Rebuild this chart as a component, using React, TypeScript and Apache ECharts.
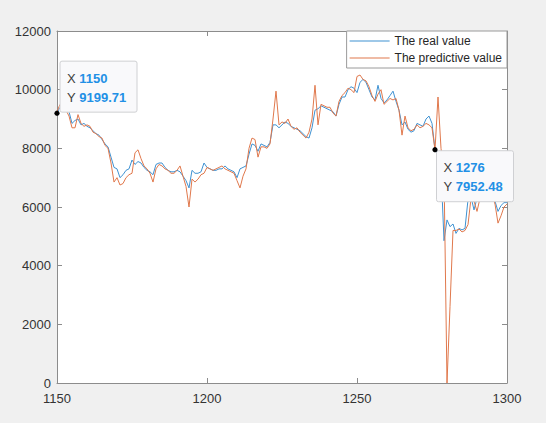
import React, { useEffect, useRef } from "react";
import * as echarts from "echarts";

// Sample index of the first value in each series (one value per step)
const X_START = 1150;

// Measured series
const realValues = [
  9200, 9400, 9450, 9350, 9250, 8850, 8950, 9000, 8800, 8850,
  8750, 8700, 8600, 8500, 8450, 8300, 8150, 8050, 7700, 7350,
  7300, 7000, 7100, 7250, 7300, 7600, 7450, 7550, 7500, 7350,
  7250, 7200, 7100, 7450, 7500, 7500, 7350, 7250, 7200, 7200,
  7250, 7200, 7050, 6900, 6650, 7250, 7150, 7150, 7200, 7500,
  7350, 7300, 7250, 7250, 7300, 7300, 7400, 7300, 7250, 7200,
  7000, 7300, 7350, 7400, 7800, 8150, 8100, 7900, 8150, 8100,
  8050, 8200, 8800, 8800, 8700, 8800, 8900, 8850, 8750, 8700,
  8650, 8600, 8500, 8400, 8350, 8700, 9300, 9350, 9450, 9400,
  9350, 9300, 9250, 9100, 9500, 9750, 9750, 10000, 10100, 10050,
  9900, 10250, 10350, 10250, 10000, 9750, 9650, 10150, 9700, 9550,
  9650, 9800, 9950, 9600, 9300, 8800, 8900, 8650, 8550, 8600,
  8850, 8800, 8750, 9000, 9100, 8850, 7952.48, 7800, 7300, 4850,
  5560, 5330, 5420, 5100, 5270, 5220, 5270, 6250, 6350, 5900,
  6300, 6500, 6650, 6600, 6450, 6400, 6200, 5850, 6050, 6150,
  6150,
];

// Model output
const predictedValues = [
  9250, 9500, 9400, 9300, 9100, 8700, 8700, 9150, 8850, 8750,
  8800, 8750, 8550, 8500, 8400, 8350, 8100, 8000, 7500, 6850,
  7000, 6750, 6800, 7000, 7100, 7150, 7850, 7950, 7650, 7400,
  7300, 7150, 6850, 7300, 7450, 7400, 7300, 7250, 7150, 7150,
  7250, 7400, 7050, 6700, 6000, 6950, 6850, 6950, 7100, 7150,
  7350, 7300, 7250, 7300, 7350, 7400, 7300, 7250, 7200, 7150,
  6900, 6650, 7050, 7300, 8000, 8350, 8300, 7700, 8050, 8050,
  8000, 8150, 9000, 9950, 8800, 8900, 8850, 9000, 8750, 8650,
  8700, 8550, 8450, 8350, 8550, 9000, 10150, 8800, 9500, 9450,
  9400, 9400, 9200, 9100, 9600, 9800, 9900, 10050, 10000, 9900,
  10450, 10500, 10350, 10300, 10100, 9800, 9600, 9850, 10000, 9500,
  9600, 9700, 9650, 9700, 9300, 8450, 9100, 8700, 8600, 8650,
  8800, 8700, 8750, 8850, 8800, 8700, 7950, 9750, 8000, 7200,
  0, 2600, 5200, 5200, 5250, 5150, 5200, 5400, 6300, 6200,
  5850, 6300, 6500, 6600, 6550, 6400, 6100, 5450, 5700, 6000,
  6100,
];

const seriesNames = ["The real value", "The predictive value"];
const seriesColors = ["#3f92d2", "#e0784c"];

// Axis ranges and tick steps
const xAxisRange = { min: 1150, max: 1300, step: 50 };
const yAxisRange = { min: 0, max: 12000, step: 2000 };

// Data tips pinned to points of the real series
const dataTips = [
  { x: 1150, y: 9199.71, place: "above" },
  { x: 1276, y: 7952.48, place: "below" },
];

const FONT = "'Liberation Sans', Arial, Helvetica, sans-serif";

export default function App() {
  const ref = useRef<HTMLDivElement>(null);

  useEffect(() => {
    document.body.style.margin = "0";
    const chart = echarts.init(ref.current!, null, { renderer: "svg" });
    const toPairs = (vals: number[]) => vals.map((v, i) => [X_START + i, v]);

    const lineStyle = { color: "#8c8c8c", width: 1 };
    const tick = { show: true, inside: true, length: 5, lineStyle };
    const plain = (v: number) => String(v);
    const baseX = {
      type: "value",
      min: xAxisRange.min,
      max: xAxisRange.max,
      interval: xAxisRange.step,
      axisLine: { show: true, onZero: false, lineStyle },
      axisTick: tick,
      splitLine: { show: false },
    };
    const baseY = {
      type: "value",
      min: yAxisRange.min,
      max: yAxisRange.max,
      interval: yAxisRange.step,
      axisLine: { show: true, onZero: false, lineStyle },
      axisTick: tick,
      splitLine: { show: false },
    };

    chart.setOption({
      animation: false,
      backgroundColor: "#f0f0f0",
      grid: {
        left: 57,
        right: 39,
        top: 31,
        bottom: 40,
        show: true,
        backgroundColor: "#ffffff",
        borderWidth: 0,
      },
      xAxis: [
        {
          ...baseX,
          position: "bottom",
          axisLabel: { color: "#333", fontSize: 13, fontFamily: FONT, margin: 9, formatter: plain },
        },
        { ...baseX, position: "top", axisLabel: { show: false } },
      ],
      yAxis: [
        {
          ...baseY,
          position: "left",
          axisLabel: { color: "#333", fontSize: 13, fontFamily: FONT, margin: 6, formatter: plain },
        },
        { ...baseY, position: "right", axisLabel: { show: false } },
      ],
      legend: {
        orient: "vertical",
        right: 39,
        top: 31,
        backgroundColor: "#ffffff",
        borderColor: "#9a9a9a",
        borderWidth: 1,
        borderRadius: 0,
        padding: [4, 5, 4, 3],
        itemGap: 5,
        itemWidth: 40,
        itemHeight: 1,
        icon: "rect",
        textStyle: { fontSize: 12, color: "#262626", fontFamily: FONT, lineHeight: 12 },
        data: seriesNames,
      },
      series: [realValues, predictedValues].map((vals, i) => ({
        name: seriesNames[i],
        type: "line",
        xAxisIndex: 0,
        yAxisIndex: 0,
        data: toPairs(vals),
        symbol: "none",
        showSymbol: false,
        lineStyle: { color: seriesColors[i], width: 1 },
        itemStyle: { color: seriesColors[i] },
        z: 2 + i,
      })),
    });

    // Data tip boxes placed next to their anchor points
    const boxW = 77;
    const boxH = 51;
    const elements: any[] = [];
    dataTips.forEach((tip) => {
      const [px, py] = chart.convertToPixel({ gridIndex: 0 }, [tip.x, tip.y]) as number[];
      const bx = tip.place === "above" ? px + 3 : px + 1.5;
      const by = tip.place === "above" ? py - boxH - 1 : py + 1;
      elements.push({
        type: "rect",
        z: 100,
        shape: { x: bx, y: by, width: boxW, height: boxH, r: 2 },
        style: { fill: "#f9f9fb", stroke: "#cfd0d3", lineWidth: 1 },
      });
      elements.push({
        type: "text",
        z: 101,
        x: bx + 7,
        y: by + 7.5,
        style: {
          text: `{k|X} {v|${tip.x}}\n{k|Y} {v|${tip.y.toFixed(2)}}`,
          verticalAlign: "top",
          lineHeight: 19,
          fontFamily: FONT,
          fontSize: 13,
          rich: {
            k: { fontSize: 13, fill: "#404040", fontFamily: FONT, lineHeight: 19 },
            v: { fontSize: 13, fontWeight: "bold", fill: "#2290e6", fontFamily: FONT, lineHeight: 19 },
          },
        },
      });
      elements.push({
        type: "circle",
        z: 102,
        shape: { cx: px, cy: py, r: 2.6 },
        style: { fill: "#000000" },
      });
    });
    chart.setOption({ graphic: { elements } });

    return () => chart.dispose();
  }, []);

  return <div ref={ref} style={{ width: 546, height: 423 }} />;
}
